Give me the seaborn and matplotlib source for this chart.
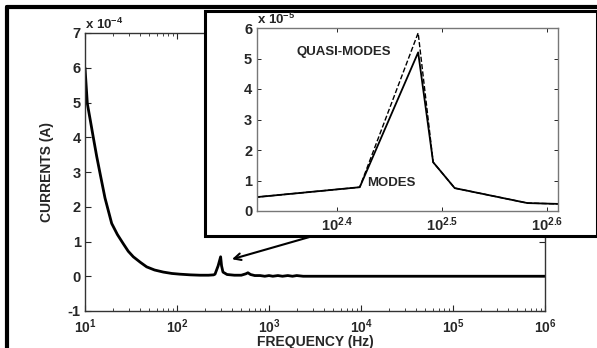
import numpy as np
import pandas as pd
import matplotlib
matplotlib.use("Agg")
import matplotlib.pyplot as plt
import seaborn as sns
from matplotlib.patches import Rectangle
from matplotlib.ticker import FixedLocator, FixedFormatter, NullLocator

# ---- data (currents in units of 1e-4 A for main, 1e-5 A for inset) ----
freq_main = [10, 10.6, 11.4, 12.3, 13.4, 14.6, 16.5, 19.5, 22.5, 26, 29.5, 33.5, 40, 46.8, 57, 71,
             88, 107, 140, 178, 220, 250, 259, 280, 298, 305, 316, 350, 420, 500, 560, 590,
             630, 700, 800, 900, 1000, 1100, 1250, 1400, 1600, 1800, 2000, 2350, 3000,
             1e4, 1e5, 1e6]
curr_main = [6.0, 4.97, 4.5, 4.0, 3.45, 2.95, 2.25, 1.52, 1.2, 0.94, 0.72, 0.56, 0.4, 0.27, 0.18, 0.12,
             0.08, 0.06, 0.04, 0.03, 0.03, 0.04, 0.06, 0.3, 0.56, 0.3, 0.12, 0.05, 0.03, 0.03, 0.07, 0.1,
             0.05, 0.02, 0.02, 0.0, 0.02, 0.0, 0.02, 0.0, 0.02, 0.0, 0.02, 0.0, 0.0,
             0.0, 0.0, 0.0]

freq_inset = [200, 264, 300, 310, 325, 381, 420]
modes = [0.38, 0.78, 5.2, 1.6, 0.75, 0.26, 0.22]
quasi_modes = [0.38, 0.78, 5.84, 1.6, 0.75, 0.26, 0.22]

main_yticks = [-1, 0, 1, 2, 3, 4, 5, 6, 7]
inset_yticks = [0, 1, 2, 3, 4, 5, 6]
inset_xexp = [2.4, 2.5, 2.6]

sns.set_style("ticks")
plt.rcParams["font.family"] = ["Liberation Sans", "DejaVu Sans"]
plt.rcParams["font.weight"] = "bold"
plt.rcParams["mathtext.fontset"] = "custom"
plt.rcParams["mathtext.rm"] = "Liberation Sans:bold"
plt.rcParams["mathtext.bf"] = "Liberation Sans:bold"
plt.rcParams["mathtext.default"] = "bf"
plt.rcParams["xtick.direction"] = "in"
plt.rcParams["ytick.direction"] = "in"

fig = plt.figure(figsize=(5.97, 3.48), dpi=100)
fig.patch.set_facecolor("white")

# outer frame (left & top)
fig.add_artist(plt.Line2D([7/597, 7/597], [0, 1 - 7/348], transform=fig.transFigure, color="black", lw=3))
fig.add_artist(plt.Line2D([7/597, 1], [1 - 7/348, 1 - 7/348], transform=fig.transFigure, color="black", lw=3))

ax = fig.add_axes([85/597, 1 - 311/348, 460/597, 278/348])
dfm = pd.DataFrame({"f": freq_main, "i": curr_main})
sns.lineplot(data=dfm, x="f", y="i", ax=ax, color="black", lw=2.0, sort=False, estimator=None)
ax.set_xscale("log")
ax.set_xlim(10, 1e6)
ax.set_ylim(-1, 7)
ax.set_yticks(main_yticks)
ax.set_yticklabels([str(t) for t in main_yticks], fontsize=10.5, fontweight="bold")
ax.tick_params(axis="x", labelsize=10, top=True, which="both", pad=4.5)
ax.tick_params(axis="y", right=True, pad=3)
ax.tick_params(which="major", length=4, width=0.8)
ax.tick_params(which="minor", length=2, width=0.6)
for s in ax.spines.values():
    s.set_color("#333333")
    s.set_linewidth(1.0)
ax.set_xlabel("FREQUENCY (Hz)", fontsize=10, fontweight="bold", labelpad=-0.5)
ax.set_ylabel("CURRENTS (A)", fontsize=10, fontweight="bold", labelpad=10)
ax.text(0.0, 1.005, r"x 10$^{-4}$", transform=ax.transAxes, fontsize=9.5, fontweight="bold", va="bottom", ha="left")

# arrow from inset to the peak
ax.annotate("", xy=(396, 0.49), xycoords="data",
            xytext=(313/597, 1 - 236/348), textcoords="figure fraction",
            arrowprops=dict(arrowstyle="->", color="black", lw=1.5, mutation_scale=12, shrinkA=0, shrinkB=0))

# inset frame
fig.add_artist(Rectangle((205/597, 1 - 236/348), (597 - 205)/597, (236 - 11)/348,
                         transform=fig.transFigure, facecolor="white", edgecolor="black", lw=2.2, zorder=3))

axi = fig.add_axes([257/597, 1 - 211/348, 301/597, 183/348], zorder=4)
dfi = pd.DataFrame({"f": freq_inset + freq_inset,
                    "i": quasi_modes + modes,
                    "kind": ["QUASI-MODES"] * len(freq_inset) + ["MODES"] * len(freq_inset)})
sns.lineplot(data=dfi[dfi.kind == "QUASI-MODES"], x="f", y="i", ax=axi, color="black", lw=1.0,
             linestyle="--", sort=False, estimator=None)
sns.lineplot(data=dfi[dfi.kind == "MODES"], x="f", y="i", ax=axi, color="black", lw=1.3,
             sort=False, estimator=None)
axi.set_xscale("log")
axi.set_xlim(10**2.324, 10**2.61)
axi.set_ylim(0, 6)
axi.xaxis.set_major_locator(FixedLocator([10**e for e in inset_xexp]))
axi.xaxis.set_major_formatter(FixedFormatter([r"10$^{%g}$" % e for e in inset_xexp]))
axi.xaxis.set_minor_locator(NullLocator())
axi.set_yticks(inset_yticks)
axi.set_yticklabels([str(t) for t in inset_yticks], fontsize=10.5, fontweight="bold")
axi.tick_params(axis="x", labelsize=10.5, top=True)
axi.tick_params(axis="y", right=True)
axi.tick_params(length=3, width=0.7)
for s in axi.spines.values():
    s.set_color("#777777")
    s.set_linewidth(1.0)
axi.set_xlabel("")
axi.set_ylabel("")
axi.text(0.0, 1.005, r"x 10$^{-5}$", transform=axi.transAxes, fontsize=9.5, fontweight="bold", va="bottom", ha="left")
axi.text(10**2.362, 5.2, "QUASI-MODES", fontsize=9.5, fontweight="bold", va="center", ha="left")
axi.text(10**2.429, 0.92, "MODES", fontsize=9.5, fontweight="bold", va="center", ha="left")

fig.savefig("out.png", dpi=100, facecolor="white")
